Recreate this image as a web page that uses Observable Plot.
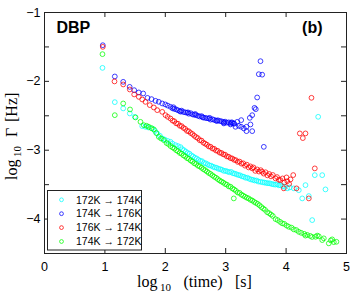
<!DOCTYPE html>
<html>
<head>
<meta charset="utf-8">
<script src="https://cdn.jsdelivr.net/npm/d3@7"></script>
<script src="https://cdn.jsdelivr.net/npm/@observablehq/plot@0.6"></script>
<style>
  html, body { margin: 0; padding: 0; background: #fff; }
  #chart { width: 354px; height: 293px; }
</style>
</head>
<body>
<div id="chart"></div>
<script>
// ---- data (log10 time [s], log10 Gamma [Hz]) ----
const seriesNames = ["172K \u2192 174K", "174K \u2192 176K", "176K \u2192 174K", "174K \u2192 172K"];
const seriesColors = ["#00ffff", "#0000ff", "#ff0000", "#00ff00"];
const xTicks = [0, 1, 2, 3, 4, 5];
const yTicks = [-4.5, -4, -3.5, -3, -2.5, -2, -1.5, -1];
const yTickLabels = [-4, -3, -2, -1];

const cyan = [[0.96,-1.804],[1.164,-2.302],[1.303,-2.393],[1.412,-2.466],[1.495,-2.515],[1.618,-2.65],[1.672,-2.66],[1.72,-2.67],[1.783,-2.684],[1.83,-2.72],[1.866,-2.756],[1.91,-2.79],[1.949,-2.829],[1.99,-2.845],[2.04,-2.865],[2.086,-2.878],[2.12,-2.905],[2.169,-2.926],[2.21,-2.94],[2.252,-2.955],[2.28,-2.985],[2.31,-3.0],[2.34,-3.02],[2.37,-3.04],[2.40,-3.05],[2.43,-3.075],[2.46,-3.09],[2.49,-3.11],[2.52,-3.12],[2.55,-3.14],[2.58,-3.155],[2.61,-3.16],[2.64,-3.185],[2.67,-3.19],[2.70,-3.205],[2.73,-3.22],[2.76,-3.225],[2.79,-3.24],[2.82,-3.25],[2.85,-3.255],[2.88,-3.27],[2.91,-3.275],[2.94,-3.285],[2.97,-3.30],[3.00,-3.30],[3.03,-3.31],[3.06,-3.32],[3.09,-3.315],[3.12,-3.335],[3.15,-3.34],[3.18,-3.35],[3.21,-3.36],[3.24,-3.365],[3.27,-3.38],[3.30,-3.385],[3.33,-3.40],[3.36,-3.40],[3.39,-3.415],[3.42,-3.425],[3.45,-3.43],[3.48,-3.44],[3.51,-3.44],[3.54,-3.455],[3.576,-3.459],[3.61,-3.465],[3.64,-3.47],[3.67,-3.475],[3.70,-3.48],[3.73,-3.48],[3.76,-3.49],[3.79,-3.495],[3.82,-3.50],[3.85,-3.495],[3.88,-3.51],[3.907,-3.507],[3.94,-3.52],[3.97,-3.53],[4.018,-3.554],[4.06,-3.54],[4.128,-3.554],[4.21,-3.58],[4.267,-3.70],[4.321,-3.507],[4.376,-3.666],[4.432,-4.015],[4.475,-3.362],[4.531,-2.515],[4.598,-3.362],[4.652,-3.569]];

const blue = [[0.965,-1.475],[1.164,-1.929],[1.303,-2.007],[1.41,-2.08],[1.485,-2.128],[1.561,-2.161],[1.634,-2.176],[1.705,-2.24],[1.772,-2.258],[1.838,-2.283],[1.892,-2.297],[1.949,-2.321],[2.0,-2.335],[2.04,-2.352],[2.086,-2.37],[2.12,-2.392],[2.135,-2.376],[2.15,-2.40],[2.18,-2.407],[2.21,-2.42],[2.24,-2.432],[2.255,-2.44],[2.27,-2.425],[2.30,-2.445],[2.33,-2.45],[2.36,-2.456],[2.375,-2.45],[2.39,-2.47],[2.42,-2.462],[2.45,-2.48],[2.48,-2.486],[2.495,-2.474],[2.51,-2.49],[2.54,-2.50],[2.57,-2.51],[2.60,-2.505],[2.615,-2.52],[2.63,-2.526],[2.66,-2.53],[2.69,-2.536],[2.72,-2.54],[2.735,-2.53],[2.75,-2.556],[2.78,-2.55],[2.81,-2.56],[2.84,-2.57],[2.855,-2.576],[2.87,-2.565],[2.90,-2.575],[2.93,-2.58],[2.96,-2.59],[2.969,-2.611],[2.975,-2.60],[2.99,-2.585],[3.02,-2.60],[3.05,-2.595],[3.079,-2.626],[3.08,-2.61],[3.095,-2.595],[3.11,-2.60],[3.134,-2.612],[3.14,-2.615],[3.162,-2.66],[3.19,-2.588],[3.217,-2.646],[3.257,-2.563],[3.257,-2.66],[3.30,-2.684],[3.344,-2.66],[3.344,-2.723],[3.399,-2.53],[3.41,-2.626],[3.439,-2.491],[3.439,-2.723],[3.477,-2.385],[3.498,-2.404],[3.521,-2.234],[3.548,-1.896],[3.576,-1.707],[3.604,-1.903],[3.631,-2.951]];

const red = [[0.965,-1.499],[1.159,-2.001],[1.303,-2.045],[1.412,-2.118],[1.485,-2.19],[1.561,-2.225],[1.618,-2.263],[1.672,-2.298],[1.743,-2.345],[1.81,-2.379],[1.866,-2.418],[1.949,-2.443],[2.003,-2.491],[2.04,-2.515],[2.086,-2.54],[2.12,-2.57],[2.15,-2.58],[2.18,-2.61],[2.21,-2.615],[2.24,-2.645],[2.27,-2.65],[2.30,-2.675],[2.33,-2.69],[2.36,-2.72],[2.39,-2.725],[2.42,-2.75],[2.45,-2.765],[2.48,-2.79],[2.51,-2.81],[2.54,-2.825],[2.57,-2.855],[2.60,-2.86],[2.63,-2.89],[2.66,-2.905],[2.69,-2.92],[2.72,-2.945],[2.75,-2.95],[2.78,-2.975],[2.81,-2.98],[2.84,-3.005],[2.87,-3.01],[2.90,-3.035],[2.93,-3.04],[2.96,-3.06],[2.99,-3.065],[3.02,-3.09],[3.05,-3.095],[3.08,-3.115],[3.11,-3.12],[3.14,-3.14],[3.17,-3.145],[3.20,-3.17],[3.23,-3.165],[3.26,-3.195],[3.29,-3.19],[3.32,-3.225],[3.35,-3.21],[3.38,-3.25],[3.41,-3.235],[3.439,-3.264],[3.46,-3.25],[3.49,-3.30],[3.521,-3.279],[3.55,-3.31],[3.58,-3.29],[3.604,-3.313],[3.63,-3.34],[3.66,-3.32],[3.69,-3.365],[3.72,-3.345],[3.75,-3.38],[3.78,-3.36],[3.825,-3.409],[3.85,-3.39],[3.88,-3.43],[3.907,-3.434],[3.94,-3.41],[3.962,-3.554],[3.97,-3.47],[4.007,-3.395],[4.02,-3.45],[4.05,-3.49],[4.073,-3.424],[4.118,-3.361],[4.172,-3.554],[4.227,-2.756],[4.277,-2.824],[4.321,-2.756],[4.376,-3.70],[4.42,-2.239],[4.475,-3.264]];

const green = [[0.96,-1.605],[1.164,-2.491],[1.303,-2.321],[1.416,-2.408],[1.507,-2.524],[1.589,-2.588],[1.644,-2.636],[1.69,-2.645],[1.727,-2.66],[1.77,-2.68],[1.81,-2.698],[1.85,-2.75],[1.892,-2.806],[1.93,-2.83],[1.975,-2.853],[2.02,-2.895],[2.05,-2.91],[2.086,-2.94],[2.12,-2.96],[2.15,-2.975],[2.18,-3.0],[2.21,-3.015],[2.24,-3.04],[2.27,-3.05],[2.30,-3.075],[2.33,-3.09],[2.36,-3.115],[2.39,-3.125],[2.42,-3.15],[2.45,-3.165],[2.48,-3.19],[2.51,-3.2],[2.54,-3.225],[2.57,-3.235],[2.60,-3.255],[2.63,-3.275],[2.66,-3.29],[2.69,-3.31],[2.72,-3.33],[2.75,-3.345],[2.78,-3.365],[2.81,-3.385],[2.84,-3.40],[2.87,-3.42],[2.90,-3.44],[2.93,-3.455],[2.96,-3.47],[2.99,-3.49],[3.02,-3.50],[3.05,-3.525],[3.08,-3.53],[3.11,-3.555],[3.134,-3.70],[3.14,-3.57],[3.17,-3.59],[3.20,-3.615],[3.23,-3.62],[3.26,-3.645],[3.29,-3.66],[3.32,-3.675],[3.35,-3.69],[3.38,-3.70],[3.41,-3.72],[3.44,-3.73],[3.47,-3.75],[3.50,-3.765],[3.53,-3.78],[3.56,-3.80],[3.59,-3.825],[3.62,-3.845],[3.65,-3.865],[3.687,-3.90],[3.72,-3.915],[3.75,-3.935],[3.78,-3.955],[3.825,-4.0],[3.86,-4.015],[3.90,-4.04],[3.935,-4.062],[3.97,-4.07],[4.01,-4.095],[4.045,-4.112],[4.09,-4.125],[4.128,-4.15],[4.17,-4.16],[4.21,-4.185],[4.25,-4.20],[4.30,-4.215],[4.32,-4.24],[4.35,-4.23],[4.40,-4.245],[4.43,-4.26],[4.487,-4.257],[4.515,-4.24],[4.541,-4.25],[4.598,-4.305],[4.624,-4.28],[4.707,-4.353],[4.74,-4.31],[4.763,-4.295],[4.79,-4.335],[4.834,-4.33]];

const allSeries = [cyan, blue, red, green];

// ---- layout ----
const W = 354, H = 293;
const mL = 44, mR = 8, mT = 12, mB = 40;
const innerW = W - mL - mR, innerH = H - mT - mB;
const tick = 5;
const fmt = d => String(d).replace("-", "\u2212");

const dotMarks = allSeries.map((s, i) =>
  Plot.dot(s, {x: d => d[0], y: d => d[1], r: 2.4, stroke: seriesColors[i], strokeWidth: 0.75, fill: "none"})
);

const chart = Plot.plot({
  width: W, height: H,
  marginLeft: mL, marginRight: mR, marginTop: mT, marginBottom: mB,
  x: {domain: [0, 5]},
  y: {domain: [-4.5, -1]},
  style: {fontFamily: "'Liberation Sans', Arial, sans-serif", fontSize: "12.5px", background: "#fff", color: "#000", overflow: "visible"},
  marks: [
    ...dotMarks,
    Plot.frame({stroke: "#222", strokeWidth: 1}),
    Plot.tickX(xTicks, {x: d => d, insetTop: innerH - tick, stroke: "#222"}),
    Plot.tickX(xTicks, {x: d => d, insetBottom: innerH - tick, stroke: "#222"}),
    Plot.tickY(yTicks, {y: d => d, insetRight: innerW - tick, stroke: "#222"}),
    Plot.tickY(yTicks, {y: d => d, insetLeft: innerW - tick, stroke: "#222"}),
    Plot.axisX({ticks: xTicks, tickSize: 0, tickPadding: 9, label: null, fontSize: 12.5, tickFormat: fmt}),
    Plot.axisY({ticks: yTickLabels, tickSize: 0, tickPadding: 4, label: null, fontSize: 12.5, tickFormat: fmt}),
    Plot.text(["DBP"], {frameAnchor: "top-left", dx: 12, dy: 9, fontWeight: "bold", fontSize: 16, textAnchor: "start", lineAnchor: "top"}),
    Plot.text(["(b)"], {frameAnchor: "top-right", dx: -24, dy: 9, fontWeight: "bold", fontSize: 16, textAnchor: "end", lineAnchor: "top"})
  ]
});
document.getElementById("chart").appendChild(chart);

// ---- legend and axis titles (pixel layout) ----
const svg = d3.select(chart);
const lg = svg.append("g").attr("text-anchor", "start");
lg.append("rect").attr("x", 47.5).attr("y", 190.5).attr("width", 94).attr("height", 59.5)
  .attr("fill", "#fff").attr("stroke", "#222").attr("stroke-width", 1);
seriesNames.forEach((name, i) => {
  const yy = 199.8 + i * 13.9;
  lg.append("circle").attr("cx", 61.5).attr("cy", yy).attr("r", 1.9)
    .attr("fill", "none").attr("stroke", seriesColors[i]).attr("stroke-width", 0.75);
  lg.append("text").attr("x", 76).attr("y", yy).attr("dy", "0.36em")
    .attr("font-family", "'Liberation Sans', Arial, sans-serif").attr("font-size", 10.5)
    .attr("fill", "#000").attr("text-anchor", "start").text(name);
});

const serif = "'Liberation Serif', 'Times New Roman', serif";
const xl = svg.append("text").attr("font-family", serif).attr("font-size", 16).attr("fill", "#000")
  .attr("text-anchor", "start").attr("y", 286.5);
xl.append("tspan").attr("x", 137).text("log");
xl.append("tspan").attr("x", 160).attr("dy", 4.5).attr("font-size", 11).text("10");
xl.append("tspan").attr("x", 183.5).attr("dy", -4.5).text("(time)");
xl.append("tspan").attr("x", 235).text("[s]");

const yl = svg.append("text").attr("font-family", serif).attr("font-size", 16).attr("fill", "#000")
  .attr("text-anchor", "start")
  .attr("transform", "translate(16.5,0) rotate(-90)").attr("y", 0);
yl.append("tspan").attr("x", -180).text("log");
yl.append("tspan").attr("x", -157).attr("dy", 4.5).attr("font-size", 11).text("10");
yl.append("tspan").attr("x", -137).attr("dy", -4.5).text("\u0393");
yl.append("tspan").attr("x", -122).text("[Hz]");
</script>
</body>
</html>
